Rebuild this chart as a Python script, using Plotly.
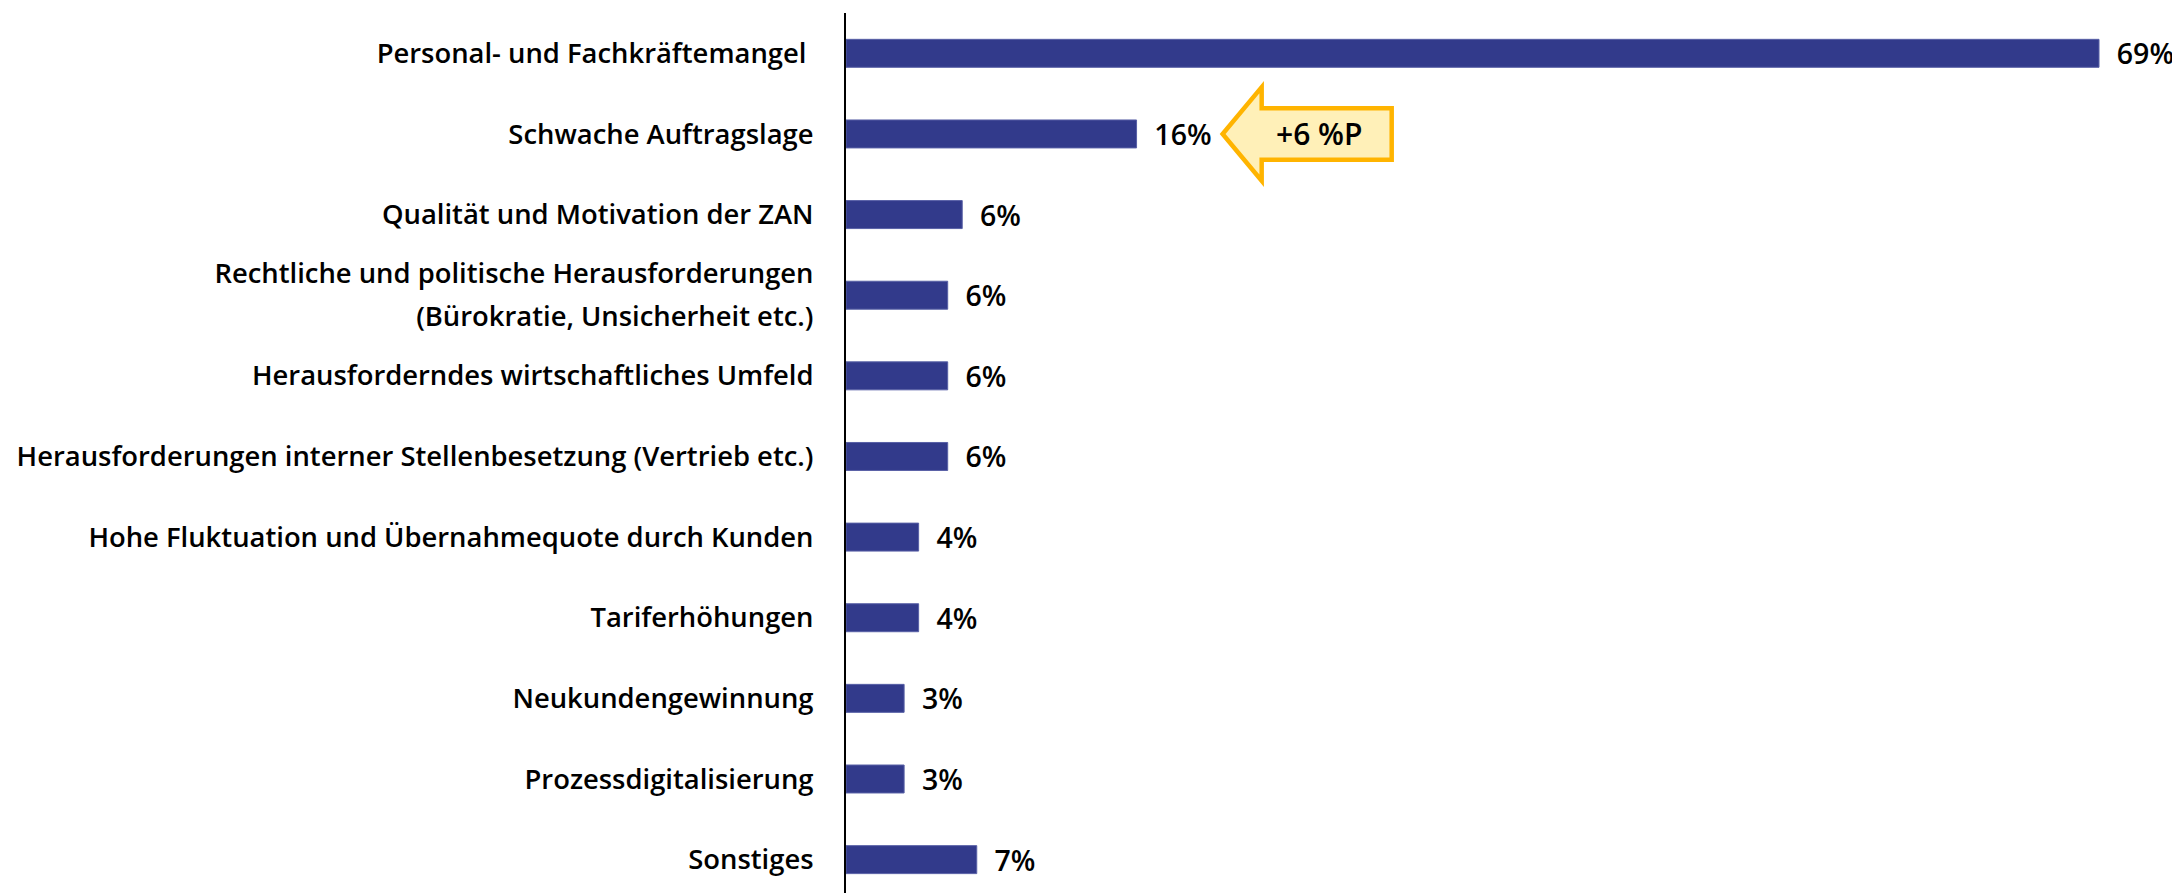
import plotly.graph_objects as go

categories = [
    "Personal- und Fachkräftemangel\u00a0",
    "Schwache Auftragslage",
    "Qualität und Motivation der ZAN",
    "Rechtliche und politische Herausforderungen<br>(Bürokratie, Unsicherheit etc.)",
    "Herausforderndes wirtschaftliches Umfeld",
    "Herausforderungen interner Stellenbesetzung (Vertrieb etc.)",
    "Hohe Fluktuation und Übernahmequote durch Kunden",
    "Tariferhöhungen",
    "Neukundengewinnung",
    "Prozessdigitalisierung",
    "Sonstiges",
]
values = [69.0, 16.0, 6.4, 5.6, 5.6, 5.6, 4.0, 4.0, 3.2, 3.2, 7.2]
change_label = "+6 %P"
change_index = 1

positions = list(range(len(categories)))

FONT = "Open Sans"
BAR_COLOR = "#323a8b"
LINE_STEP = 0.533  # spacing of wrapped label lines, in category units

# tick positions/texts: wrapped labels get one tick per line
tick_vals, tick_text = [], []
for pos, label in zip(positions, categories):
    lines = label.split("<br>")
    n = len(lines)
    for k, line in enumerate(lines):
        tick_vals.append(pos + (k - (n - 1) / 2) * LINE_STEP)
        tick_text.append(line)

fig = go.Figure()
fig.add_trace(go.Bar(
    x=values,
    y=positions,
    orientation="h",
    width=0.347,
    marker=dict(color=BAR_COLOR, line=dict(color="#5860a6", width=1)),
    texttemplate="\u00a0\u00a0%{x:.0f}%",
    textposition="outside",
    constraintext="none",
    textfont=dict(family=FONT, size=28.5, color="#000000", weight=600),
    cliponaxis=False,
    hoverinfo="skip",
))

# arrow callout next to the bar with the change
v = values[change_index]
yc = positions[change_index]
tip = v + 4.74
head = tip + 2.15
right = tip + 9.31
hh, sh = 0.58, 0.32
path = (f"M {tip},{yc} L {head},{yc - hh} L {head},{yc - sh} L {right},{yc - sh} "
        f"L {right},{yc + sh} L {head},{yc + sh} L {head},{yc + hh} Z")
fig.add_shape(type="path", path=path, xref="x", yref="y",
              fillcolor="#fff0b8", line=dict(color="#ffb400", width=4.5), layer="above")
fig.add_annotation(x=(head + right) / 2 - 0.45, y=yc, xref="x", yref="y",
                   text=change_label, showarrow=False,
                   font=dict(family=FONT, size=30, color="#000000", weight=600))

fig.update_layout(
    width=2172, height=885,
    margin=dict(l=838, r=0, t=5, b=0, pad=0),
    plot_bgcolor="white", paper_bgcolor="white",
    showlegend=False,
    xaxis=dict(range=[0, 73.46], visible=False, fixedrange=True),
    yaxis=dict(
        range=[10.414, -0.5],
        tickvals=tick_vals, ticktext=tick_text,
        showline=True, linecolor="#000000", linewidth=2,
        showgrid=False, zeroline=False, ticks="",
        ticklabelstandoff=25,
        tickfont=dict(family=FONT, size=27.4, color="#000000", weight=600),
    ),
)

fig.write_html("out.html")
